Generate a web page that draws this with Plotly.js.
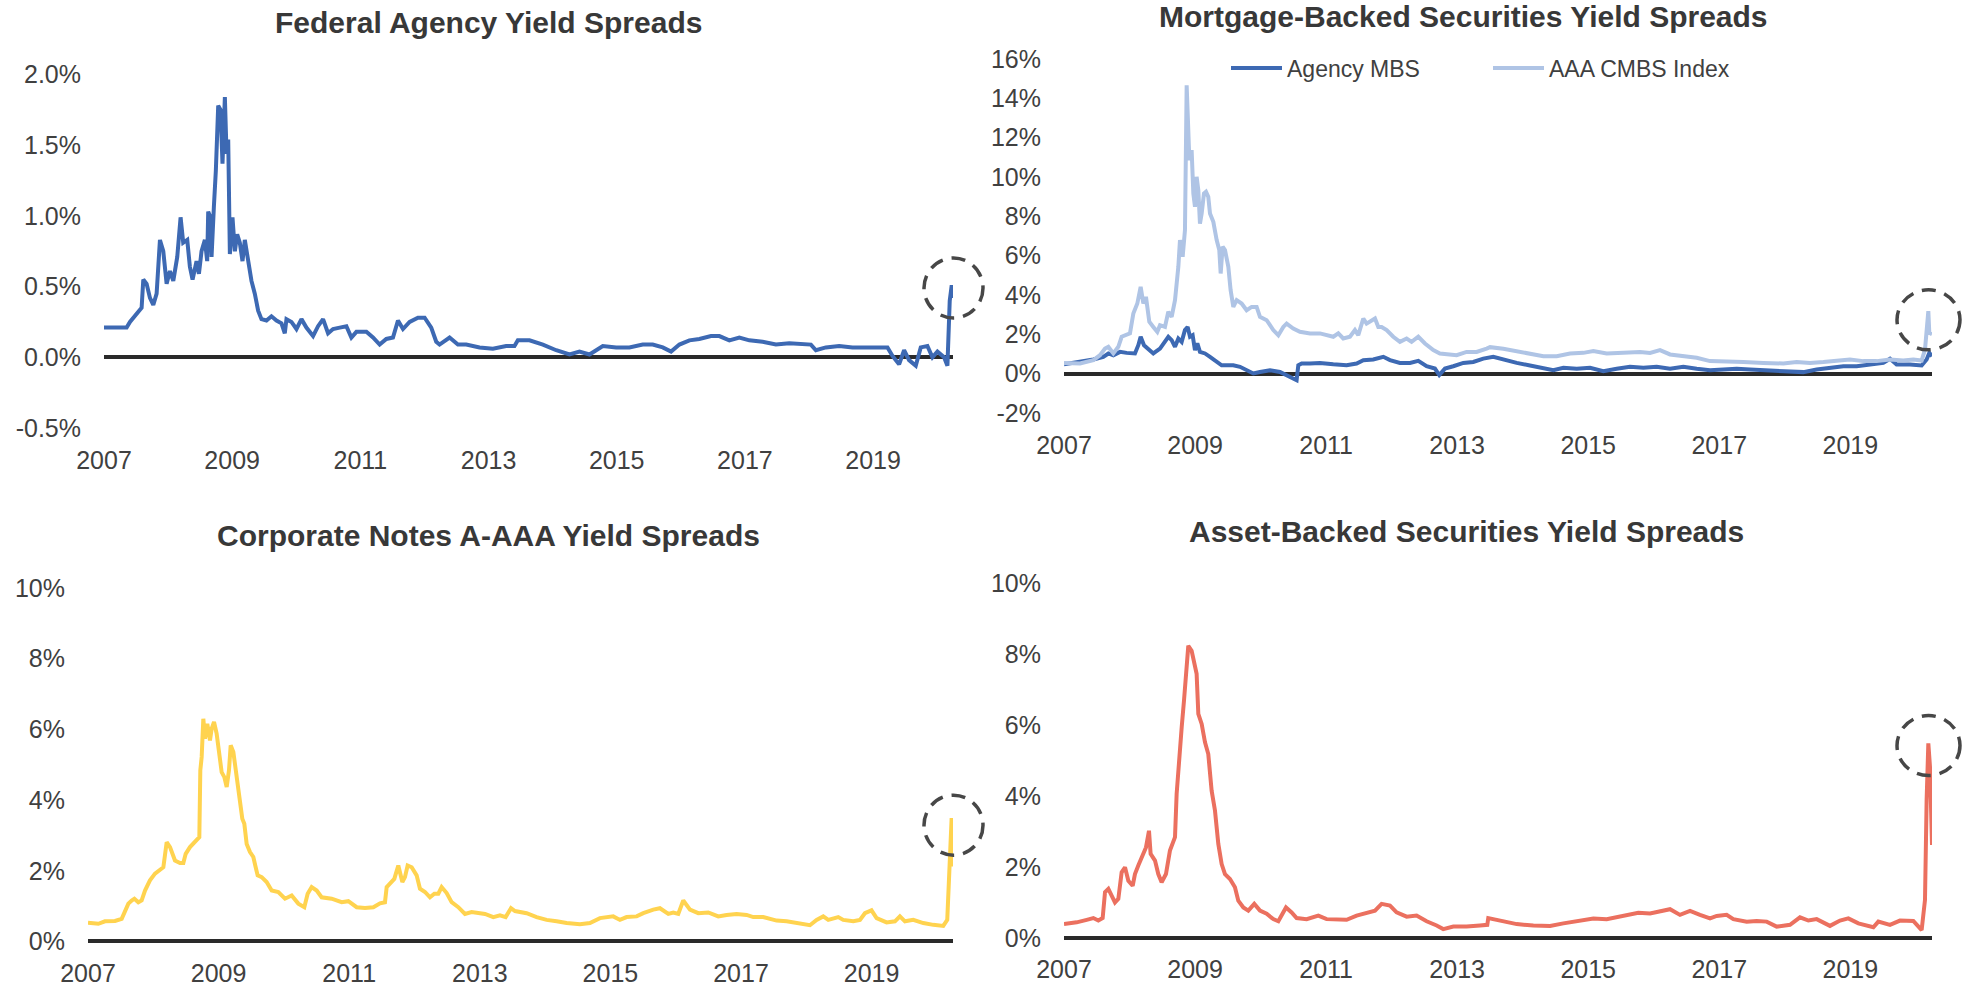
<!DOCTYPE html>
<html><head><meta charset="utf-8">
<script src="https://cdn.plot.ly/plotly-3.0.1.min.js"></script>
<style>html,body{margin:0;padding:0;background:#fff;}#chart{width:1967px;height:987px;}</style>
</head><body><div id="chart"></div>
<script>
// ---- data: [decimal year, spread in %] ----
const fedAgency = [[2007.000,0.21],[2007.353,0.21],[2007.405,0.25],[2007.509,0.31],[2007.587,0.35],[2007.613,0.55],[2007.665,0.52],[2007.717,0.42],[2007.769,0.37],[2007.821,0.45],[2007.873,0.83],[2007.925,0.75],[2007.977,0.52],[2008.029,0.61],[2008.081,0.54],[2008.143,0.71],[2008.195,0.99],[2008.236,0.81],[2008.299,0.83],[2008.340,0.64],[2008.382,0.55],[2008.444,0.68],[2008.481,0.59],[2008.522,0.75],[2008.574,0.83],[2008.610,0.68],[2008.626,1.03],[2008.662,0.99],[2008.678,0.71],[2008.714,1.06],[2008.745,1.32],[2008.782,1.78],[2008.818,1.75],[2008.849,1.37],[2008.886,1.84],[2008.912,1.44],[2008.938,1.54],[2008.964,0.73],[2009.005,0.99],[2009.042,0.75],[2009.078,0.87],[2009.119,0.81],[2009.161,0.68],[2009.197,0.83],[2009.249,0.68],[2009.301,0.54],[2009.353,0.45],[2009.405,0.33],[2009.457,0.27],[2009.535,0.26],[2009.613,0.29],[2009.691,0.26],[2009.769,0.24],[2009.821,0.17],[2009.847,0.27],[2009.925,0.25],[2010.003,0.20],[2010.081,0.27],[2010.158,0.21],[2010.262,0.15],[2010.340,0.22],[2010.418,0.27],[2010.496,0.17],[2010.574,0.20],[2010.678,0.21],[2010.782,0.22],[2010.860,0.14],[2010.938,0.18],[2011.094,0.18],[2011.197,0.14],[2011.301,0.09],[2011.405,0.13],[2011.509,0.14],[2011.587,0.26],[2011.665,0.20],[2011.769,0.25],[2011.899,0.28],[2012.003,0.28],[2012.106,0.21],[2012.184,0.11],[2012.236,0.09],[2012.392,0.14],[2012.522,0.09],[2012.652,0.09],[2012.860,0.07],[2013.068,0.06],[2013.275,0.08],[2013.405,0.08],[2013.457,0.12],[2013.639,0.12],[2013.848,0.09],[2014.056,0.05],[2014.263,0.02],[2014.419,0.04],[2014.575,0.02],[2014.783,0.08],[2014.991,0.07],[2015.198,0.07],[2015.406,0.09],[2015.562,0.09],[2015.718,0.07],[2015.848,0.04],[2015.978,0.09],[2016.134,0.12],[2016.289,0.13],[2016.471,0.15],[2016.601,0.15],[2016.757,0.12],[2016.913,0.14],[2017.069,0.12],[2017.276,0.11],[2017.484,0.09],[2017.692,0.10],[2017.900,0.09],[2018.030,0.09],[2018.108,0.05],[2018.263,0.07],[2018.471,0.08],[2018.679,0.07],[2018.887,0.07],[2019.095,0.07],[2019.225,0.07],[2019.303,0.01],[2019.406,-0.05],[2019.484,0.05],[2019.562,-0.02],[2019.666,-0.06],[2019.744,0.07],[2019.848,0.08],[2019.926,0.00],[2020.004,0.04],[2020.108,0.00],[2020.160,-0.06],[2020.196,0.40],[2020.227,0.51],[2020.247,0.42]];

const agencyMBS = [[2007.000,0.47],[2007.244,0.59],[2007.448,0.71],[2007.600,0.85],[2007.677,1.02],[2007.753,0.93],[2007.855,1.10],[2007.956,1.05],[2008.083,1.02],[2008.134,1.44],[2008.170,1.87],[2008.221,1.44],[2008.272,1.27],[2008.363,1.02],[2008.465,1.27],[2008.541,1.61],[2008.592,1.87],[2008.643,1.70],[2008.694,1.36],[2008.745,1.78],[2008.796,1.61],[2008.846,2.21],[2008.887,2.37],[2008.923,1.87],[2008.963,1.95],[2008.999,1.19],[2009.035,1.53],[2009.075,1.10],[2009.152,1.02],[2009.228,0.85],[2009.330,0.59],[2009.406,0.42],[2009.482,0.42],[2009.584,0.42],[2009.686,0.34],[2009.787,0.17],[2009.889,0.00],[2009.991,0.08],[2010.143,0.17],[2010.296,0.08],[2010.398,-0.08],[2010.499,-0.25],[2010.550,-0.34],[2010.576,0.42],[2010.627,0.51],[2010.754,0.51],[2010.906,0.54],[2011.110,0.47],[2011.313,0.42],[2011.466,0.51],[2011.568,0.68],[2011.720,0.71],[2011.873,0.85],[2011.975,0.68],[2012.127,0.54],[2012.280,0.54],[2012.407,0.64],[2012.534,0.37],[2012.661,0.25],[2012.727,-0.08],[2012.814,0.25],[2012.941,0.37],[2013.094,0.54],[2013.246,0.59],[2013.399,0.76],[2013.551,0.85],[2013.705,0.71],[2013.909,0.54],[2014.112,0.41],[2014.316,0.29],[2014.468,0.17],[2014.621,0.29],[2014.825,0.24],[2015.028,0.29],[2015.231,0.12],[2015.435,0.24],[2015.638,0.34],[2015.842,0.29],[2016.045,0.34],[2016.249,0.24],[2016.452,0.34],[2016.656,0.24],[2016.859,0.17],[2017.063,0.20],[2017.266,0.24],[2017.469,0.20],[2017.673,0.17],[2017.876,0.12],[2018.080,0.12],[2018.283,0.07],[2018.487,0.20],[2018.690,0.29],[2018.894,0.37],[2019.097,0.37],[2019.301,0.46],[2019.504,0.54],[2019.606,0.75],[2019.707,0.46],[2019.911,0.46],[2020.089,0.41],[2020.165,0.71],[2020.206,1.05],[2020.247,0.88]];

const aaaCMBS = [[2007.000,0.54],[2007.244,0.51],[2007.448,0.68],[2007.549,0.93],[2007.626,1.27],[2007.677,1.36],[2007.753,1.02],[2007.829,1.36],[2007.880,1.87],[2007.956,1.95],[2008.007,2.04],[2008.058,3.05],[2008.119,3.56],[2008.170,4.41],[2008.211,3.56],[2008.251,3.90],[2008.302,2.63],[2008.363,2.37],[2008.424,2.12],[2008.465,2.46],[2008.541,2.37],[2008.592,3.14],[2008.643,2.88],[2008.694,3.73],[2008.745,5.43],[2008.770,6.79],[2008.811,5.94],[2008.846,7.29],[2008.872,14.67],[2008.897,12.38],[2008.913,10.86],[2008.948,11.37],[2008.974,9.16],[2008.999,8.48],[2009.024,10.01],[2009.050,9.33],[2009.075,7.63],[2009.101,8.14],[2009.136,9.16],[2009.167,9.25],[2009.202,8.99],[2009.228,8.14],[2009.279,7.72],[2009.330,6.79],[2009.370,6.28],[2009.391,5.09],[2009.421,6.45],[2009.457,6.28],[2009.482,5.77],[2009.508,5.43],[2009.543,4.24],[2009.584,3.39],[2009.635,3.73],[2009.711,3.56],[2009.787,3.22],[2009.864,3.39],[2009.940,3.39],[2009.991,2.88],[2010.093,2.71],[2010.194,2.21],[2010.271,1.95],[2010.347,2.37],[2010.398,2.54],[2010.499,2.29],[2010.601,2.12],[2010.754,2.04],[2010.906,2.04],[2011.008,1.95],[2011.110,1.87],[2011.186,2.04],[2011.262,1.78],[2011.364,1.87],[2011.440,2.21],[2011.491,1.95],[2011.568,2.80],[2011.618,2.54],[2011.695,2.71],[2011.746,2.80],[2011.797,2.37],[2011.847,2.37],[2011.924,2.21],[2012.025,1.87],[2012.127,1.61],[2012.229,1.78],[2012.305,1.61],[2012.407,1.87],[2012.509,1.53],[2012.636,1.19],[2012.737,1.02],[2012.839,0.98],[2012.992,0.93],[2013.144,1.10],[2013.297,1.10],[2013.450,1.27],[2013.502,1.34],[2013.705,1.26],[2013.909,1.14],[2014.112,0.97],[2014.316,0.88],[2014.519,0.88],[2014.723,1.02],[2014.926,1.05],[2015.079,1.14],[2015.282,1.02],[2015.537,1.05],[2015.791,1.09],[2015.944,1.05],[2016.096,1.19],[2016.249,0.97],[2016.452,0.88],[2016.656,0.80],[2016.859,0.63],[2017.063,0.63],[2017.368,0.58],[2017.673,0.54],[2017.978,0.51],[2018.182,0.58],[2018.385,0.54],[2018.589,0.58],[2018.792,0.63],[2018.995,0.71],[2019.199,0.63],[2019.402,0.63],[2019.606,0.71],[2019.809,0.66],[2019.962,0.71],[2020.089,0.66],[2020.140,1.22],[2020.176,2.58],[2020.191,3.17],[2020.206,2.07],[2020.247,2.00]];

const corpNotes = [[2007.000,0.53],[2007.158,0.50],[2007.260,0.57],[2007.413,0.58],[2007.516,0.64],[2007.556,0.83],[2007.618,1.07],[2007.669,1.16],[2007.710,1.21],[2007.771,1.11],[2007.822,1.16],[2007.873,1.44],[2007.949,1.73],[2008.026,1.92],[2008.103,2.01],[2008.154,2.10],[2008.205,2.81],[2008.256,2.67],[2008.332,2.29],[2008.409,2.22],[2008.460,2.22],[2008.496,2.48],[2008.562,2.67],[2008.639,2.81],[2008.705,2.95],[2008.720,4.84],[2008.741,5.22],[2008.766,6.30],[2008.792,5.74],[2008.827,6.16],[2008.868,5.69],[2008.894,6.02],[2008.930,6.21],[2008.970,5.88],[2009.011,5.22],[2009.047,4.79],[2009.088,4.65],[2009.124,4.37],[2009.159,4.84],[2009.185,5.55],[2009.226,5.36],[2009.251,5.03],[2009.292,4.37],[2009.328,3.90],[2009.363,3.47],[2009.394,3.33],[2009.430,2.76],[2009.481,2.53],[2009.532,2.39],[2009.568,2.10],[2009.598,1.87],[2009.660,1.82],[2009.736,1.68],[2009.813,1.44],[2009.915,1.40],[2010.017,1.21],[2010.119,1.30],[2010.221,1.07],[2010.313,0.97],[2010.364,1.35],[2010.425,1.54],[2010.502,1.44],[2010.578,1.25],[2010.731,1.21],[2010.885,1.11],[2010.987,1.14],[2011.114,0.97],[2011.242,0.95],[2011.370,0.97],[2011.472,1.08],[2011.548,1.11],[2011.574,1.54],[2011.625,1.63],[2011.691,1.77],[2011.752,2.15],[2011.814,1.68],[2011.854,1.82],[2011.895,2.15],[2011.957,2.10],[2012.033,1.87],[2012.084,1.49],[2012.161,1.40],[2012.237,1.25],[2012.304,1.35],[2012.365,1.35],[2012.416,1.54],[2012.493,1.37],[2012.569,1.11],[2012.671,0.97],[2012.773,0.78],[2012.875,0.83],[2012.977,0.81],[2013.080,0.78],[2013.207,0.69],[2013.309,0.74],[2013.396,0.69],[2013.478,0.94],[2013.539,0.86],[2013.717,0.80],[2013.870,0.69],[2014.024,0.61],[2014.177,0.57],[2014.330,0.52],[2014.534,0.49],[2014.687,0.52],[2014.840,0.66],[2015.044,0.71],[2015.146,0.61],[2015.249,0.69],[2015.402,0.71],[2015.504,0.80],[2015.657,0.90],[2015.759,0.94],[2015.887,0.78],[2015.963,0.82],[2016.040,0.78],[2016.116,1.16],[2016.219,0.90],[2016.346,0.80],[2016.499,0.82],[2016.652,0.71],[2016.780,0.75],[2016.933,0.78],[2017.086,0.75],[2017.188,0.69],[2017.341,0.69],[2017.546,0.59],[2017.699,0.57],[2017.852,0.52],[2018.056,0.46],[2018.158,0.61],[2018.260,0.71],[2018.337,0.61],[2018.490,0.69],[2018.566,0.61],[2018.720,0.57],[2018.822,0.61],[2018.898,0.80],[2018.999,0.88],[2019.077,0.66],[2019.230,0.54],[2019.358,0.57],[2019.434,0.71],[2019.511,0.57],[2019.638,0.61],[2019.792,0.52],[2019.945,0.47],[2020.098,0.44],[2020.159,0.61],[2020.190,1.93],[2020.226,3.49],[2020.247,2.12]];

const assetBacked = [[2007.000,0.40],[2007.193,0.45],[2007.346,0.52],[2007.448,0.57],[2007.524,0.50],[2007.590,0.57],[2007.626,1.30],[2007.677,1.39],[2007.727,1.20],[2007.778,1.01],[2007.829,1.11],[2007.880,1.86],[2007.931,2.00],[2007.982,1.62],[2008.048,1.48],[2008.083,1.81],[2008.134,2.05],[2008.200,2.38],[2008.251,2.56],[2008.297,3.03],[2008.322,2.38],[2008.389,2.19],[2008.439,1.81],[2008.490,1.58],[2008.556,1.81],[2008.617,2.47],[2008.694,2.85],[2008.719,4.07],[2008.760,5.29],[2008.796,5.94],[2008.831,6.69],[2008.862,7.54],[2008.897,8.24],[2008.948,8.10],[2008.984,7.73],[2009.024,7.45],[2009.050,6.32],[2009.101,6.04],[2009.152,5.52],[2009.202,5.19],[2009.253,4.16],[2009.304,3.60],[2009.355,2.66],[2009.406,2.09],[2009.457,1.81],[2009.533,1.67],[2009.609,1.44],[2009.660,1.06],[2009.737,0.87],[2009.813,0.78],[2009.904,0.97],[2009.991,0.78],[2010.093,0.69],[2010.194,0.54],[2010.271,0.48],[2010.337,0.73],[2010.388,0.87],[2010.474,0.73],[2010.550,0.57],[2010.703,0.54],[2010.881,0.64],[2011.008,0.54],[2011.161,0.52],[2011.313,0.52],[2011.466,0.64],[2011.618,0.73],[2011.746,0.78],[2011.847,0.97],[2011.975,0.92],[2012.076,0.73],[2012.229,0.61],[2012.381,0.64],[2012.534,0.48],[2012.687,0.36],[2012.788,0.26],[2012.941,0.33],[2013.144,0.33],[2013.348,0.36],[2013.460,0.38],[2013.475,0.57],[2013.502,0.56],[2013.705,0.50],[2013.909,0.40],[2014.163,0.36],[2014.418,0.35],[2014.621,0.42],[2014.875,0.49],[2015.079,0.56],[2015.282,0.54],[2015.537,0.63],[2015.765,0.72],[2015.944,0.70],[2016.096,0.75],[2016.249,0.82],[2016.401,0.66],[2016.554,0.77],[2016.706,0.66],[2016.859,0.56],[2016.961,0.63],[2017.113,0.66],[2017.215,0.54],[2017.419,0.47],[2017.571,0.49],[2017.724,0.47],[2017.876,0.33],[2018.080,0.38],[2018.232,0.59],[2018.360,0.50],[2018.487,0.54],[2018.690,0.35],[2018.843,0.50],[2018.970,0.56],[2019.123,0.42],[2019.352,0.31],[2019.428,0.47],[2019.606,0.38],[2019.758,0.50],[2019.962,0.49],[2020.089,0.23],[2020.140,1.08],[2020.165,3.90],[2020.191,5.49],[2020.216,4.84],[2020.247,2.63]];

const xTickVals = [2007, 2009, 2011, 2013, 2015, 2017, 2019];
const xTickText = ['2007', '2009', '2011', '2013', '2015', '2017', '2019'];
const fedTickVals = [-0.5, 0, 0.5, 1.0, 1.5, 2.0];
const fedTickText = ['-0.5%', '0.0%', '0.5%', '1.0%', '1.5%', '2.0%'];
const mbsTickVals = [-2, 0, 2, 4, 6, 8, 10, 12, 14, 16];
const mbsTickText = ['-2%', '0%', '2%', '4%', '6%', '8%', '10%', '12%', '14%', '16%'];
const pctTickVals = [0, 2, 4, 6, 8, 10];
const pctTickText = ['0%', '2%', '4%', '6%', '8%', '10%'];
const panelTitles = ['Federal Agency Yield Spreads', 'Mortgage-Backed Securities Yield Spreads',
                     'Corporate Notes A-AAA Yield Spreads', 'Asset-Backed Securities Yield Spreads'];
const mbsNames = ['Agency MBS', 'AAA CMBS Index'];

// ---- layout geometry (pixels in a 1967 x 987 page) ----
const W = 1967, H = 987;
const FONT = 'Liberation Sans, Arial, Helvetica, sans-serif';
const TXT = '#404040';
const px = v => v / W;
const py = v => 1 - v / H;

const xs = a => a.map(p => p[0]);
const ys = a => a.map(p => p[1]);
const line = (c, w) => ({color: c, width: w});

const traces = [
  {x: xs(fedAgency), y: ys(fedAgency), xaxis: 'x', yaxis: 'y', mode: 'lines', line: line('#3D69B3', 4), showlegend: false, name: 'Federal Agency'},
  {x: xs(agencyMBS), y: ys(agencyMBS), xaxis: 'x2', yaxis: 'y2', mode: 'lines', line: line('#3D69B3', 4), name: mbsNames[0]},
  {x: xs(aaaCMBS), y: ys(aaaCMBS), xaxis: 'x2', yaxis: 'y2', mode: 'lines', line: line('#AFC4E5', 4), name: mbsNames[1]},
  {x: xs(corpNotes), y: ys(corpNotes), xaxis: 'x3', yaxis: 'y3', mode: 'lines', line: line('#FFD34F', 4), showlegend: false, name: 'Corporate Notes'},
  {x: xs(assetBacked), y: ys(assetBacked), xaxis: 'x4', yaxis: 'y4', mode: 'lines', line: line('#EB705F', 4), showlegend: false, name: 'ABS'}
];

const tickFont = {family: FONT, size: 25, color: TXT};
function xAxis(l, r, anchor, standoff) {
  return {domain: [px(l), px(r)], range: [2007, 2020.247], anchor: anchor, tickmode: 'array',
          tickvals: xTickVals, ticktext: xTickText, showgrid: false, zeroline: false, showline: false,
          ticks: '', tickfont: tickFont, ticklabelstandoff: standoff, fixedrange: true};
}
function yAxis(top, bottom, range, tv, tt, anchor) {
  return {domain: [py(bottom), py(top)], range: range, anchor: anchor, tickmode: 'array',
          tickvals: tv, ticktext: tt, showgrid: false, showline: false, ticks: '',
          zeroline: true, zerolinecolor: '#2a2a2a', zerolinewidth: 4,
          tickfont: tickFont, ticklabelstandoff: 22, fixedrange: true};
}

const titleFont = {family: FONT, size: 30, color: '#383838', weight: 700};
const titleAnn = (text, x, y) => ({text: text, xref: 'paper', yref: 'paper', x: px(x), y: py(y),
  xanchor: 'center', yanchor: 'middle', showarrow: false, font: titleFont});

const ring = (xr, yr, yval, left, right) => ({type: 'circle', xref: xr + ' domain', yref: yr,
  xsizemode: 'pixel', ysizemode: 'pixel', xanchor: 1, yanchor: yval,
  x0: left, x1: right, y0: -30, y1: 30,
  line: {color: '#474747', width: 3.5, dash: '14px,9px'}, fillcolor: 'rgba(0,0,0,0)'});

const layout = {
  width: W, height: H, margin: {l: 0, r: 0, t: 0, b: 0},
  paper_bgcolor: '#ffffff', plot_bgcolor: 'rgba(0,0,0,0)',
  font: {family: FONT, color: TXT},
  showlegend: true,
  legend: {orientation: 'h', x: px(1226), y: py(68), xanchor: 'left', yanchor: 'middle',
           font: {family: FONT, size: 23, color: TXT}, itemwidth: 51, entrywidth: 196,
           bgcolor: 'rgba(0,0,0,0)', borderwidth: 0, itemclick: false, itemdoubleclick: false},
  xaxis: xAxis(104, 953, 'y', 15),
  yaxis: yAxis(74.5, 428.0, [-0.5, 2.0], fedTickVals, fedTickText, 'x'),
  xaxis2: xAxis(1064, 1932, 'y2', 15),
  yaxis2: yAxis(59.1, 412.8, [-2, 16], mbsTickVals, mbsTickText, 'x2'),
  xaxis3: xAxis(88, 953, 'y3', 11),
  yaxis3: yAxis(588.0, 945.0, [-0.1, 10], pctTickVals, pctTickText, 'x3'),
  xaxis4: xAxis(1064, 1932, 'y4', 10),
  yaxis4: yAxis(583.3, 941.85, [-0.1, 10], pctTickVals, pctTickText, 'x4'),
  annotations: [
    titleAnn(panelTitles[0], 488, 22.5),
    titleAnn(panelTitles[1], 1463, 17),
    titleAnn(panelTitles[2], 488, 535),
    titleAnn(panelTitles[3], 1466, 531.7)
  ],
  shapes: [
    ring('x', 'y', 0.49, -29, 30),
    ring('x2', 'y2', 2.73, -35, 28),
    ring('x3', 'y3', 3.29, -29, 30),
    ring('x4', 'y4', 5.43, -35, 28)
  ]
};

Plotly.newPlot('chart', traces, layout, {displayModeBar: false, staticPlot: true});
</script>
</body></html>
